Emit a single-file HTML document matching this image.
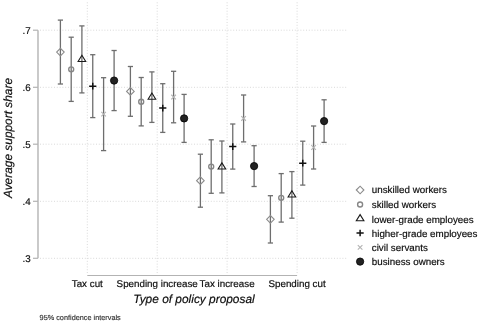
<!DOCTYPE html><html><head><meta charset="utf-8"><style>html,body{margin:0;padding:0;background:#fff;overflow:hidden;}svg{display:block;will-change:transform}text{font-family:"Liberation Sans",sans-serif;text-rendering:geometricPrecision;}</style></head><body>
<svg width="480" height="322" viewBox="0 0 480 322">
<rect width="480" height="322" fill="#fff"/>
<line x1="40" y1="30.2" x2="347" y2="30.2" stroke="#d9d9d9" stroke-width="1" stroke-dasharray="1 1.8"/>
<line x1="40" y1="87.3" x2="347" y2="87.3" stroke="#d9d9d9" stroke-width="1" stroke-dasharray="1 1.8"/>
<line x1="40" y1="144.2" x2="347" y2="144.2" stroke="#d9d9d9" stroke-width="1" stroke-dasharray="1 1.8"/>
<line x1="40" y1="201.3" x2="347" y2="201.3" stroke="#d9d9d9" stroke-width="1" stroke-dasharray="1 1.8"/>
<line x1="40" y1="258.3" x2="347" y2="258.3" stroke="#d9d9d9" stroke-width="1" stroke-dasharray="1 1.8"/>
<line x1="87.3" y1="2.3" x2="87.3" y2="273.2" stroke="#d9d9d9" stroke-width="1" stroke-dasharray="1 1.81"/>
<line x1="157.2" y1="2.3" x2="157.2" y2="273.2" stroke="#d9d9d9" stroke-width="1" stroke-dasharray="1 1.81"/>
<line x1="227.1" y1="2.3" x2="227.1" y2="273.2" stroke="#d9d9d9" stroke-width="1" stroke-dasharray="1 1.81"/>
<line x1="297.1" y1="2.3" x2="297.1" y2="273.2" stroke="#d9d9d9" stroke-width="1" stroke-dasharray="1 1.81"/>
<line x1="38" y1="30.2" x2="38" y2="258.3" stroke="#b3b3b3" stroke-width="1.4"/>
<line x1="33" y1="30.2" x2="38" y2="30.2" stroke="#b3b3b3" stroke-width="1.2"/>
<text x="30.6" y="33.7" font-size="9.8" text-anchor="end" fill="#0d0d0d" stroke="#0d0d0d" stroke-width="0.18">.7</text>
<line x1="33" y1="87.3" x2="38" y2="87.3" stroke="#b3b3b3" stroke-width="1.2"/>
<text x="30.6" y="90.8" font-size="9.8" text-anchor="end" fill="#0d0d0d" stroke="#0d0d0d" stroke-width="0.18">.6</text>
<line x1="33" y1="144.2" x2="38" y2="144.2" stroke="#b3b3b3" stroke-width="1.2"/>
<text x="30.6" y="147.7" font-size="9.8" text-anchor="end" fill="#0d0d0d" stroke="#0d0d0d" stroke-width="0.18">.5</text>
<line x1="33" y1="201.3" x2="38" y2="201.3" stroke="#b3b3b3" stroke-width="1.2"/>
<text x="30.6" y="204.8" font-size="9.8" text-anchor="end" fill="#0d0d0d" stroke="#0d0d0d" stroke-width="0.18">.4</text>
<line x1="33" y1="258.3" x2="38" y2="258.3" stroke="#b3b3b3" stroke-width="1.2"/>
<text x="30.6" y="261.8" font-size="9.8" text-anchor="end" fill="#0d0d0d" stroke="#0d0d0d" stroke-width="0.18">.3</text>
<line x1="87.3" y1="275.5" x2="297.1" y2="275.5" stroke="#b3b3b3" stroke-width="1.2"/>
<text x="87.3" y="286.8" font-size="9.8" text-anchor="middle" fill="#0d0d0d" stroke="#0d0d0d" stroke-width="0.18">Tax cut</text>
<text x="157.2" y="286.8" font-size="9.8" text-anchor="middle" fill="#0d0d0d" stroke="#0d0d0d" stroke-width="0.18">Spending increase</text>
<text x="227.1" y="286.8" font-size="9.8" text-anchor="middle" fill="#0d0d0d" stroke="#0d0d0d" stroke-width="0.18">Tax increase</text>
<text x="297.1" y="286.8" font-size="9.8" text-anchor="middle" fill="#0d0d0d" stroke="#0d0d0d" stroke-width="0.18">Spending cut</text>
<text x="194" y="302.7" font-size="11.9" font-style="italic" text-anchor="middle" fill="#0d0d0d" stroke="#0d0d0d" stroke-width="0.18">Type of policy proposal</text>
<text transform="translate(11.9,138) rotate(-90)" font-size="11.9" font-style="italic" text-anchor="middle" fill="#0d0d0d" stroke="#0d0d0d" stroke-width="0.18">Average support share</text>
<text x="39.6" y="319.8" font-size="7.3" fill="#333" stroke="#333" stroke-width="0.15">95% confidence intervals</text>
<line x1="60.4" y1="20.1" x2="60.4" y2="84.0" stroke="#6e6e6e" stroke-width="1.3"/>
<line x1="57.8" y1="20.1" x2="63.0" y2="20.1" stroke="#6e6e6e" stroke-width="1.3"/>
<line x1="57.8" y1="84.0" x2="63.0" y2="84.0" stroke="#6e6e6e" stroke-width="1.3"/>
<line x1="71.2" y1="37.2" x2="71.2" y2="101.4" stroke="#6e6e6e" stroke-width="1.3"/>
<line x1="68.60000000000001" y1="37.2" x2="73.8" y2="37.2" stroke="#6e6e6e" stroke-width="1.3"/>
<line x1="68.60000000000001" y1="101.4" x2="73.8" y2="101.4" stroke="#6e6e6e" stroke-width="1.3"/>
<line x1="81.9" y1="25.9" x2="81.9" y2="92.9" stroke="#6e6e6e" stroke-width="1.3"/>
<line x1="79.30000000000001" y1="25.9" x2="84.5" y2="25.9" stroke="#6e6e6e" stroke-width="1.3"/>
<line x1="79.30000000000001" y1="92.9" x2="84.5" y2="92.9" stroke="#6e6e6e" stroke-width="1.3"/>
<line x1="92.75" y1="54.7" x2="92.75" y2="117.6" stroke="#6e6e6e" stroke-width="1.3"/>
<line x1="90.15" y1="54.7" x2="95.35" y2="54.7" stroke="#6e6e6e" stroke-width="1.3"/>
<line x1="90.15" y1="117.6" x2="95.35" y2="117.6" stroke="#6e6e6e" stroke-width="1.3"/>
<line x1="103.6" y1="77.7" x2="103.6" y2="150.6" stroke="#6e6e6e" stroke-width="1.3"/>
<line x1="101.0" y1="77.7" x2="106.19999999999999" y2="77.7" stroke="#6e6e6e" stroke-width="1.3"/>
<line x1="101.0" y1="150.6" x2="106.19999999999999" y2="150.6" stroke="#6e6e6e" stroke-width="1.3"/>
<line x1="114.1" y1="50.5" x2="114.1" y2="110.6" stroke="#6e6e6e" stroke-width="1.3"/>
<line x1="111.5" y1="50.5" x2="116.69999999999999" y2="50.5" stroke="#6e6e6e" stroke-width="1.3"/>
<line x1="111.5" y1="110.6" x2="116.69999999999999" y2="110.6" stroke="#6e6e6e" stroke-width="1.3"/>
<line x1="130.4" y1="66.5" x2="130.4" y2="116.3" stroke="#6e6e6e" stroke-width="1.3"/>
<line x1="127.80000000000001" y1="66.5" x2="133.0" y2="66.5" stroke="#6e6e6e" stroke-width="1.3"/>
<line x1="127.80000000000001" y1="116.3" x2="133.0" y2="116.3" stroke="#6e6e6e" stroke-width="1.3"/>
<line x1="141.2" y1="77.5" x2="141.2" y2="125.9" stroke="#6e6e6e" stroke-width="1.3"/>
<line x1="138.6" y1="77.5" x2="143.79999999999998" y2="77.5" stroke="#6e6e6e" stroke-width="1.3"/>
<line x1="138.6" y1="125.9" x2="143.79999999999998" y2="125.9" stroke="#6e6e6e" stroke-width="1.3"/>
<line x1="151.9" y1="71.9" x2="151.9" y2="122.4" stroke="#6e6e6e" stroke-width="1.3"/>
<line x1="149.3" y1="71.9" x2="154.5" y2="71.9" stroke="#6e6e6e" stroke-width="1.3"/>
<line x1="149.3" y1="122.4" x2="154.5" y2="122.4" stroke="#6e6e6e" stroke-width="1.3"/>
<line x1="162.75" y1="83.7" x2="162.75" y2="132.4" stroke="#6e6e6e" stroke-width="1.3"/>
<line x1="160.15" y1="83.7" x2="165.35" y2="83.7" stroke="#6e6e6e" stroke-width="1.3"/>
<line x1="160.15" y1="132.4" x2="165.35" y2="132.4" stroke="#6e6e6e" stroke-width="1.3"/>
<line x1="173.6" y1="71.3" x2="173.6" y2="122.8" stroke="#6e6e6e" stroke-width="1.3"/>
<line x1="171.0" y1="71.3" x2="176.2" y2="71.3" stroke="#6e6e6e" stroke-width="1.3"/>
<line x1="171.0" y1="122.8" x2="176.2" y2="122.8" stroke="#6e6e6e" stroke-width="1.3"/>
<line x1="184.1" y1="94.4" x2="184.1" y2="142.4" stroke="#6e6e6e" stroke-width="1.3"/>
<line x1="181.5" y1="94.4" x2="186.7" y2="94.4" stroke="#6e6e6e" stroke-width="1.3"/>
<line x1="181.5" y1="142.4" x2="186.7" y2="142.4" stroke="#6e6e6e" stroke-width="1.3"/>
<line x1="200.4" y1="154.2" x2="200.4" y2="207.2" stroke="#6e6e6e" stroke-width="1.3"/>
<line x1="197.8" y1="154.2" x2="203.0" y2="154.2" stroke="#6e6e6e" stroke-width="1.3"/>
<line x1="197.8" y1="207.2" x2="203.0" y2="207.2" stroke="#6e6e6e" stroke-width="1.3"/>
<line x1="211.2" y1="139.8" x2="211.2" y2="193.3" stroke="#6e6e6e" stroke-width="1.3"/>
<line x1="208.6" y1="139.8" x2="213.79999999999998" y2="139.8" stroke="#6e6e6e" stroke-width="1.3"/>
<line x1="208.6" y1="193.3" x2="213.79999999999998" y2="193.3" stroke="#6e6e6e" stroke-width="1.3"/>
<line x1="221.9" y1="141.0" x2="221.9" y2="192.9" stroke="#6e6e6e" stroke-width="1.3"/>
<line x1="219.3" y1="141.0" x2="224.5" y2="141.0" stroke="#6e6e6e" stroke-width="1.3"/>
<line x1="219.3" y1="192.9" x2="224.5" y2="192.9" stroke="#6e6e6e" stroke-width="1.3"/>
<line x1="232.75" y1="124.0" x2="232.75" y2="169.1" stroke="#6e6e6e" stroke-width="1.3"/>
<line x1="230.15" y1="124.0" x2="235.35" y2="124.0" stroke="#6e6e6e" stroke-width="1.3"/>
<line x1="230.15" y1="169.1" x2="235.35" y2="169.1" stroke="#6e6e6e" stroke-width="1.3"/>
<line x1="243.6" y1="95.0" x2="243.6" y2="141.9" stroke="#6e6e6e" stroke-width="1.3"/>
<line x1="241.0" y1="95.0" x2="246.2" y2="95.0" stroke="#6e6e6e" stroke-width="1.3"/>
<line x1="241.0" y1="141.9" x2="246.2" y2="141.9" stroke="#6e6e6e" stroke-width="1.3"/>
<line x1="254.1" y1="145.7" x2="254.1" y2="186.5" stroke="#6e6e6e" stroke-width="1.3"/>
<line x1="251.5" y1="145.7" x2="256.7" y2="145.7" stroke="#6e6e6e" stroke-width="1.3"/>
<line x1="251.5" y1="186.5" x2="256.7" y2="186.5" stroke="#6e6e6e" stroke-width="1.3"/>
<line x1="270.4" y1="195.7" x2="270.4" y2="243.0" stroke="#6e6e6e" stroke-width="1.3"/>
<line x1="267.79999999999995" y1="195.7" x2="273.0" y2="195.7" stroke="#6e6e6e" stroke-width="1.3"/>
<line x1="267.79999999999995" y1="243.0" x2="273.0" y2="243.0" stroke="#6e6e6e" stroke-width="1.3"/>
<line x1="281.2" y1="173.6" x2="281.2" y2="222.1" stroke="#6e6e6e" stroke-width="1.3"/>
<line x1="278.59999999999997" y1="173.6" x2="283.8" y2="173.6" stroke="#6e6e6e" stroke-width="1.3"/>
<line x1="278.59999999999997" y1="222.1" x2="283.8" y2="222.1" stroke="#6e6e6e" stroke-width="1.3"/>
<line x1="291.9" y1="171.6" x2="291.9" y2="218.2" stroke="#6e6e6e" stroke-width="1.3"/>
<line x1="289.29999999999995" y1="171.6" x2="294.5" y2="171.6" stroke="#6e6e6e" stroke-width="1.3"/>
<line x1="289.29999999999995" y1="218.2" x2="294.5" y2="218.2" stroke="#6e6e6e" stroke-width="1.3"/>
<line x1="302.75" y1="141.2" x2="302.75" y2="185.1" stroke="#6e6e6e" stroke-width="1.3"/>
<line x1="300.15" y1="141.2" x2="305.35" y2="141.2" stroke="#6e6e6e" stroke-width="1.3"/>
<line x1="300.15" y1="185.1" x2="305.35" y2="185.1" stroke="#6e6e6e" stroke-width="1.3"/>
<line x1="313.6" y1="126.0" x2="313.6" y2="169.0" stroke="#6e6e6e" stroke-width="1.3"/>
<line x1="311.0" y1="126.0" x2="316.20000000000005" y2="126.0" stroke="#6e6e6e" stroke-width="1.3"/>
<line x1="311.0" y1="169.0" x2="316.20000000000005" y2="169.0" stroke="#6e6e6e" stroke-width="1.3"/>
<line x1="324.1" y1="99.8" x2="324.1" y2="142.4" stroke="#6e6e6e" stroke-width="1.3"/>
<line x1="321.5" y1="99.8" x2="326.70000000000005" y2="99.8" stroke="#6e6e6e" stroke-width="1.3"/>
<line x1="321.5" y1="142.4" x2="326.70000000000005" y2="142.4" stroke="#6e6e6e" stroke-width="1.3"/>
<path d="M56.6 52.05L60.4 48.25L64.2 52.05L60.4 55.849999999999994Z" fill="none" stroke="#8c8c8c" stroke-width="1.1"/>
<circle cx="71.2" cy="69.30000000000001" r="2.5" fill="none" stroke="#868686" stroke-width="1.35"/>
<path d="M81.9 55.300000000000004L85.7 61.50000000000001L78.10000000000001 61.50000000000001Z" fill="none" stroke="#1a1a1a" stroke-width="1.1"/>
<path d="M89.15 86.15H96.35M92.75 82.80000000000001V89.5" stroke="#111" stroke-width="1.5"/>
<path d="M101.3 111.85000000000001L105.89999999999999 116.45M101.3 116.45L105.89999999999999 111.85000000000001" stroke="#b3b3b3" stroke-width="1.1"/>
<circle cx="114.1" cy="80.55" r="3.65" fill="#222" stroke="#000" stroke-width="0.8"/>
<path d="M126.60000000000001 91.4L130.4 87.60000000000001L134.20000000000002 91.4L130.4 95.2Z" fill="none" stroke="#8c8c8c" stroke-width="1.1"/>
<circle cx="141.2" cy="101.7" r="2.5" fill="none" stroke="#868686" stroke-width="1.35"/>
<path d="M151.9 93.05000000000001L155.70000000000002 99.25L148.1 99.25Z" fill="none" stroke="#1a1a1a" stroke-width="1.1"/>
<path d="M159.15 108.05000000000001H166.35M162.75 104.70000000000002V111.4" stroke="#111" stroke-width="1.5"/>
<path d="M171.29999999999998 94.75L175.9 99.35M171.29999999999998 99.35L175.9 94.75" stroke="#b3b3b3" stroke-width="1.1"/>
<circle cx="184.1" cy="118.4" r="3.65" fill="#222" stroke="#000" stroke-width="0.8"/>
<path d="M196.6 180.7L200.4 176.89999999999998L204.20000000000002 180.7L200.4 184.5Z" fill="none" stroke="#8c8c8c" stroke-width="1.1"/>
<circle cx="211.2" cy="166.55" r="2.5" fill="none" stroke="#868686" stroke-width="1.35"/>
<path d="M221.9 162.85L225.70000000000002 169.04999999999998L218.1 169.04999999999998Z" fill="none" stroke="#1a1a1a" stroke-width="1.1"/>
<path d="M229.15 146.55H236.35M232.75 143.20000000000002V149.9" stroke="#111" stroke-width="1.5"/>
<path d="M241.29999999999998 116.15L245.9 120.75M241.29999999999998 120.75L245.9 116.15" stroke="#b3b3b3" stroke-width="1.1"/>
<circle cx="254.1" cy="166.1" r="3.65" fill="#222" stroke="#000" stroke-width="0.8"/>
<path d="M266.59999999999997 219.35L270.4 215.54999999999998L274.2 219.35L270.4 223.15Z" fill="none" stroke="#8c8c8c" stroke-width="1.1"/>
<circle cx="281.2" cy="197.85" r="2.5" fill="none" stroke="#868686" stroke-width="1.35"/>
<path d="M291.9 190.79999999999998L295.7 196.99999999999997L288.09999999999997 196.99999999999997Z" fill="none" stroke="#1a1a1a" stroke-width="1.1"/>
<path d="M299.15 163.14999999999998H306.35M302.75 159.79999999999998V166.49999999999997" stroke="#111" stroke-width="1.5"/>
<path d="M311.3 145.2L315.90000000000003 149.8M311.3 149.8L315.90000000000003 145.2" stroke="#b3b3b3" stroke-width="1.1"/>
<circle cx="324.1" cy="121.1" r="3.65" fill="#222" stroke="#000" stroke-width="0.8"/>
<path d="M356.3 190.0L360.1 186.2L363.90000000000003 190.0L360.1 193.8Z" fill="none" stroke="#8c8c8c" stroke-width="1.1"/>
<text x="371.8" y="193.4" font-size="9.8" fill="#0d0d0d" stroke="#0d0d0d" stroke-width="0.18">unskilled workers</text>
<circle cx="360.1" cy="204.5" r="2.5" fill="none" stroke="#868686" stroke-width="1.35"/>
<text x="371.8" y="207.9" font-size="9.8" fill="#0d0d0d" stroke="#0d0d0d" stroke-width="0.18">skilled workers</text>
<path d="M360.1 214.6L363.90000000000003 220.79999999999998L356.3 220.79999999999998Z" fill="none" stroke="#1a1a1a" stroke-width="1.1"/>
<text x="371.8" y="222.6" font-size="9.8" fill="#0d0d0d" stroke="#0d0d0d" stroke-width="0.18">lower-grade employees</text>
<path d="M356.5 233.0H363.70000000000005M360.1 229.65V236.35" stroke="#111" stroke-width="1.5"/>
<text x="371.8" y="236.8" font-size="9.8" fill="#0d0d0d" stroke="#0d0d0d" stroke-width="0.18">higher-grade employees</text>
<path d="M357.8 245.1L362.40000000000003 249.70000000000002M357.8 249.70000000000002L362.40000000000003 245.1" stroke="#b3b3b3" stroke-width="1.1"/>
<text x="371.8" y="250.9" font-size="9.8" fill="#0d0d0d" stroke="#0d0d0d" stroke-width="0.18">civil servants</text>
<circle cx="360.1" cy="261.6" r="3.65" fill="#222" stroke="#000" stroke-width="0.8"/>
<text x="371.8" y="265.4" font-size="9.8" fill="#0d0d0d" stroke="#0d0d0d" stroke-width="0.18">business owners</text>
</svg></body></html>
